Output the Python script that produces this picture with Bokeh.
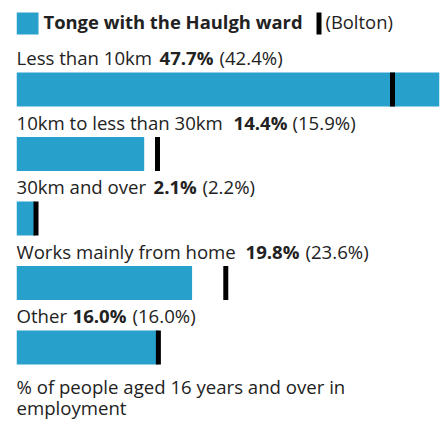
from bokeh.plotting import figure
from bokeh.models import Range1d, ColumnDataSource
from bokeh.core.properties import value
from bokeh.embed import file_html
from bokeh.resources import INLINE

# ---- data ----
categories = ["Less than 10km", "10km to less than 30km", "30km and over",
              "Works mainly from home", "Other"]
ward_values = [47.7, 14.4, 2.1, 19.8, 16.0]
bolton_values = [42.4, 15.9, 2.2, 23.6, 16.0]
area_name = "Tonge with the Haulgh ward"
comparison_name = "(Bolton)"
footer_lines = ["% of people aged 16 years and over in", "employment"]

# ---- layout (pixels) ----
W, H = 445, 421
LEFT, RIGHT = 16, 6
FONT = value("Open Sans")
FS = "18.6px"
TXT = "#222222"
BLUE = "#27a0cc"
ROW0, ROWSTEP, BARH = 72, 64.5, 34
DY = -8  # renderer baseline correction
bold_x = [143, 217, 137, 229, 56]
paren_x = [203, 276, 186, 289, 116]

p = figure(width=W, height=H, output_backend="svg", toolbar_location=None,
           x_range=Range1d(0, max(ward_values)), y_range=Range1d(H, 0),
           x_axis_location=None, y_axis_location=None,
           min_border_left=LEFT, min_border_right=RIGHT,
           min_border_top=0, min_border_bottom=0)
p.grid.visible = False
p.outline_line_color = None
p.background_fill_color = None
p.border_fill_color = "white"
p.extra_x_ranges = {"px": Range1d(0, W - LEFT - RIGHT)}

n = len(categories)
tops = [ROW0 + ROWSTEP * i for i in range(n)]
centers = [t + BARH / 2 for t in tops]
baselines = [t - 7 + DY for t in tops]

src = ColumnDataSource(dict(
    y=centers, base=baselines, ward=ward_values, bolton=bolton_values,
    label=[c + " " for c in categories],
    wtxt=[f"{v:.1f}%" for v in ward_values],
    btxt=[f"({v:.1f}%)" for v in bolton_values],
    zero=[0] * n, bx=bold_x, px=paren_x,
))

p.hbar(y="y", height=BARH, left="zero", right="ward", source=src,
       fill_color=BLUE, line_color=None)
p.rect(x="bolton", y="y", width=5, width_units="screen", height=BARH,
       source=src, fill_color="black", line_color=None)

common = dict(text_font=FONT, text_font_size=FS, text_baseline="alphabetic",
              text_color=TXT, x_range_name="px")
p.text(x="zero", y="base", text="label", source=src, **common)
p.text(x="bx", y="base", text="wtxt", source=src, text_font_style="bold", **common)
p.text(x="px", y="base", text="btxt", source=src, **common)

# legend
leg = dict(common, text_font_size="18.4px")
p.rect(x=[11], y=[23], width=22, height=22, x_range_name="px",
       fill_color=BLUE, line_color=None)
p.text(x=[27], y=[29 + DY], text=[area_name], text_font_style="bold", **leg)
p.rect(x=[302.5], y=[23], width=5, height=22, x_range_name="px",
       fill_color="black", line_color=None)
p.text(x=[309], y=[29 + DY], text=[comparison_name], **leg)

# footer
p.text(x=[0, 0], y=[394 + DY, 415 + DY], text=footer_lines, **common)

open("out.html", "w").write(file_html(p, INLINE))
